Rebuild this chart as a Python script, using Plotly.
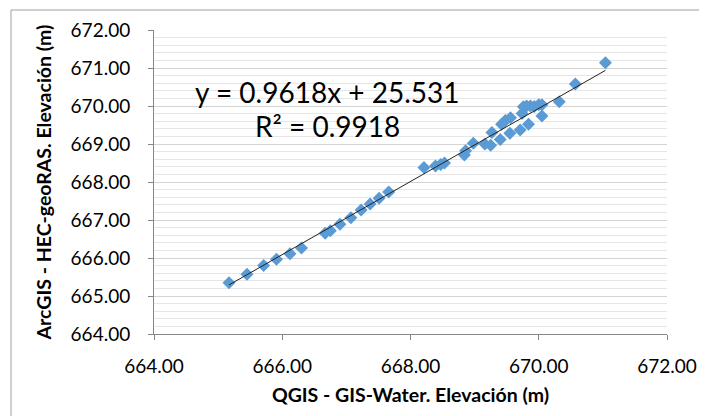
import plotly.graph_objects as go

# QGIS - GIS-Water elevations (x) vs ArcGIS - HEC-geoRAS elevations (y)
qgis_x = [665.17, 665.45, 665.71, 665.91, 666.12, 666.30, 666.67, 666.75, 666.90, 667.07,
          667.23, 667.37, 667.51, 667.66, 668.21, 668.39, 668.47, 668.53, 668.84, 668.86,
          668.98, 669.16, 669.25, 669.27, 669.40, 669.42, 669.48, 669.55, 669.56, 669.71,
          669.74, 669.76, 669.81, 669.84, 669.87, 669.93, 670.00, 670.05, 670.05, 670.32,
          670.57, 671.04]
arcgis_y = [665.35, 665.57, 665.80, 665.97, 666.11, 666.26, 666.65, 666.72, 666.89, 667.06,
            667.26, 667.42, 667.57, 667.74, 668.38, 668.42, 668.46, 668.50, 668.71, 668.82,
            669.02, 669.00, 668.97, 669.30, 669.12, 669.52, 669.62, 669.28, 669.69, 669.37,
            669.80, 669.98, 670.00, 669.52, 670.00, 669.99, 670.03, 670.03, 669.74, 670.11,
            670.58, 671.14]

slope = 0.9618
intercept = 25.531
eq_text = "y = 0.9618x + 25.531"
r2_text = "R² = 0.9918"

x_ticks = [664, 666, 668, 670, 672]
y_ticks = [664, 665, 666, 667, 668, 669, 670, 671, 672]

xmin, xmax = min(qgis_x), max(qgis_x)
trend_x = [xmin, xmax]
trend_y = [slope * v + intercept for v in trend_x]

font_family = "Lato, 'Open Sans', sans-serif"

fig = go.Figure()
fig.add_trace(go.Scatter(
    x=qgis_x, y=arcgis_y, mode="markers",
    marker=dict(symbol="diamond", size=10, color="#5B9BD5", line=dict(width=0)),
    showlegend=False, hoverinfo="x+y"))
fig.add_trace(go.Scatter(
    x=trend_x, y=trend_y, mode="lines",
    line=dict(color="#222222", width=1),
    showlegend=False, hoverinfo="skip"))

# page body has an 8px default margin, so the figure is sized to fit the window
W, H = 699, 408
L, R, T, B = 146, 40, 22, 82
PW, PH = W - L - R, H - T - B

fig.update_layout(
    width=W, height=H,
    margin=dict(l=L, r=R, t=T, b=B, pad=0, autoexpand=False),
    paper_bgcolor="white", plot_bgcolor="white",
    font=dict(family=font_family, size=19, color="#000000"),
    xaxis=dict(
        range=[664, 672], tickvals=x_ticks, ticktext=[f"{v:.2f}" for v in x_ticks],
        showgrid=False, zeroline=False, automargin=False,
        showline=True, linecolor="#868686", linewidth=1,
        ticks="outside", ticklen=5, tickcolor="#868686",
        ticklabelstandoff=10,
        title=dict(text="<b>QGIS - GIS-Water. Elevación (m)</b>", font=dict(size=19.5), standoff=12),
    ),
    yaxis=dict(
        range=[664, 672], tickvals=y_ticks, ticktext=[f"{v:.2f}" for v in y_ticks],
        showgrid=True, gridcolor="#D4D4D4", gridwidth=1,
        minor=dict(dtick=0.2, showgrid=True, gridcolor="#E6E6E6", gridwidth=1),
        zeroline=False, automargin=False,
        showline=True, linecolor="#868686", linewidth=1,
        ticks="outside", ticklen=5, tickcolor="#868686",
        ticklabelstandoff=14,
        title=dict(text="<b>ArcGIS - HEC-geoRAS. Elevación (m)</b>", font=dict(size=19.5), standoff=13),
    ),
    annotations=[
        dict(x=666.70, y=670.38, xref="x", yref="y", text=eq_text, showarrow=False,
             font=dict(size=28, family=font_family), xanchor="center", yanchor="middle"),
        dict(x=666.71, y=669.48, xref="x", yref="y", text=r2_text, showarrow=False,
             font=dict(size=28, family=font_family), xanchor="center", yanchor="middle"),
    ],
    shapes=[
        dict(type="rect", xref="paper", yref="paper",
             x0=(3 - L) / PW, x1=(720 - L) / PW,
             y0=(H - B - 420) / PH, y1=(H - B - 2) / PH,
             line=dict(color="#A0A0A0", width=1), fillcolor="rgba(0,0,0,0)", layer="below"),
    ],
)

fig.write_html("out.html")
